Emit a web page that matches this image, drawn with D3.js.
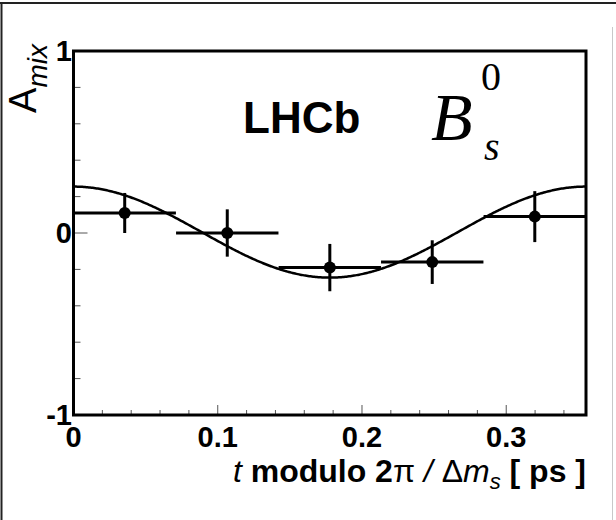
<!DOCTYPE html>
<html>
<head>
<meta charset="utf-8">
<script src="https://cdn.jsdelivr.net/npm/d3@7"></script>
<style>
  html, body { margin: 0; padding: 0; background: #fff; }
  svg { display: block; }
  text { font-family: "Liberation Sans", Arial, sans-serif; fill: #000; }
</style>
</head>
<body>
<svg id="chart" width="616" height="520"></svg>
<script>
// B_s^0 mixing asymmetry, folded into one oscillation period
const period = 0.3553;                 // 2π / Δm_s  [ps]
const binCenters = [0.0355, 0.1066, 0.1777, 0.2487, 0.3198];
const binHalfWidth = 0.0355;
const asym = [0.11, 0.00, -0.19, -0.16, 0.09];
const asymErr = [0.11, 0.13, 0.13, 0.12, 0.14];

// fitted oscillation  A(t) = offset + amplitude * cos(2π t / period)
const fitAmplitude = 0.25;
const fitOffset = 0.005;

const xTickValues = [0, 0.1, 0.2, 0.3];
const xTickLabels = ["0", "0.1", "0.2", "0.3"];
const yTickValues = [-1, 0, 1];
const yTickLabels = ["-1", "0", "1"];

const svg = d3.select("#chart");
const W = 616, H = 520;
const frame = { left: 73.5, right: 586, top: 51, bottom: 415 };

const x = d3.scaleLinear().domain([0, period]).range([frame.left, frame.right]);
const y = d3.scaleLinear().domain([-1, 1]).range([frame.bottom, frame.top]);

// page border
svg.append("line").attr("x1", 1.5).attr("x2", 1.5).attr("y1", 2).attr("y2", H)
  .attr("stroke", "#222").attr("stroke-width", 2);
svg.append("line").attr("x1", 0).attr("x2", W).attr("y1", 3).attr("y2", 3)
  .attr("stroke", "#222").attr("stroke-width", 2);
svg.append("line").attr("x1", 612.5).attr("x2", 612.5).attr("y1", 27).attr("y2", H)
  .attr("stroke", "#c8c8c8").attr("stroke-width", 1);

// axis ticks (inside the frame): majors longer than minors
const xg = svg.append("g").attr("transform", `translate(0,${frame.bottom})`);
xg.selectAll("line").data(d3.range(0.02, period, 0.02))
  .join("line")
  .attr("x1", d => x(d)).attr("x2", d => x(d))
  .attr("y1", 0)
  .attr("y2", (d, i) => ((i + 1) % 5 === 0 ? -10 : -5))
  .attr("stroke", "#555").attr("stroke-width", 1);

const yg = svg.append("g").attr("transform", `translate(${frame.left},0)`);
yg.selectAll("line").data(d3.range(-0.8, 0.9, 0.2))
  .join("line")
  .attr("x1", 0)
  .attr("x2", d => (Math.abs(d) < 1e-6 ? 14 : 7))
  .attr("y1", d => y(d)).attr("y2", d => y(d))
  .attr("stroke", "#555").attr("stroke-width", 1);

// tick labels
svg.append("g").selectAll("text").data(xTickValues)
  .join("text")
  .attr("x", d => x(d))
  .attr("y", 447)
  .attr("text-anchor", "middle")
  .attr("font-weight", "bold")
  .attr("font-size", 29)
  .text((d, i) => xTickLabels[i]);

svg.append("g").selectAll("text").data(yTickValues)
  .join("text")
  .attr("x", 72)
  .attr("y", d => y(d))
  .attr("dy", "0.36em")
  .attr("text-anchor", "end")
  .attr("font-weight", "bold")
  .attr("font-size", 29)
  .text((d, i) => yTickLabels[i]);

// fit curve
const curve = d3.range(0, 401).map(i => {
  const t = period * i / 400;
  return [t, fitOffset + fitAmplitude * Math.cos(2 * Math.PI * t / period)];
});
svg.append("path")
  .datum(curve)
  .attr("d", d3.line().x(d => x(d[0])).y(d => y(d[1])))
  .attr("fill", "none")
  .attr("stroke", "#000")
  .attr("stroke-width", 2.5);

// data points with error bars
const pts = binCenters.map((c, i) => ({ c, v: asym[i], e: asymErr[i] }));
const pg = svg.append("g");
pg.selectAll("line.h").data(pts).join("line").attr("class", "h")
  .attr("x1", d => x(d.c - binHalfWidth)).attr("x2", d => x(d.c + binHalfWidth))
  .attr("y1", d => y(d.v)).attr("y2", d => y(d.v))
  .attr("stroke", "#000").attr("stroke-width", 3);
pg.selectAll("line.v").data(pts).join("line").attr("class", "v")
  .attr("x1", d => x(d.c)).attr("x2", d => x(d.c))
  .attr("y1", d => y(d.v - d.e)).attr("y2", d => y(d.v + d.e))
  .attr("stroke", "#000").attr("stroke-width", 3);
pg.selectAll("circle").data(pts).join("circle")
  .attr("cx", d => x(d.c)).attr("cy", d => y(d.v))
  .attr("r", 6).attr("fill", "#000");

// frame
svg.append("rect")
  .attr("x", frame.left).attr("y", frame.top)
  .attr("width", frame.right - frame.left).attr("height", frame.bottom - frame.top)
  .attr("fill", "none").attr("stroke", "#000").attr("stroke-width", 3);

// y-axis title  A_mix
const yt = svg.append("text")
  .attr("transform", `translate(36,44) rotate(-90)`)
  .attr("text-anchor", "end")
  .attr("font-size", 38);
yt.append("tspan").text("A");
yt.append("tspan").attr("font-style", "italic").attr("font-size", 28).attr("dy", 11).text("mix");

// x-axis title
const xt = svg.append("text")
  .attr("x", 586).attr("y", 482)
  .attr("text-anchor", "end")
  .attr("font-size", 32);
xt.append("tspan").attr("font-style", "italic").text("t");
xt.append("tspan").attr("font-weight", "bold").text(" modulo 2");
xt.append("tspan").text("π");
xt.append("tspan").attr("font-style", "italic").text(" / ");
xt.append("tspan").text("Δ");
xt.append("tspan").attr("font-style", "italic").text("m");
xt.append("tspan").attr("font-style", "italic").attr("font-size", 22).attr("dy", 7).text("s");
xt.append("tspan").attr("font-weight", "bold").attr("dy", -7).text(" [ ps ]");

// labels inside the frame
svg.append("text")
  .attr("x", 243).attr("y", 133)
  .attr("font-weight", "bold")
  .attr("font-size", 44)
  .text("LHCb");

const serif = "'Liberation Serif', 'Times New Roman', serif";
svg.append("text")
  .attr("x", 431).attr("y", 140)
  .attr("font-style", "italic")
  .attr("font-size", 68)
  .style("font-family", serif)
  .text("B");
svg.append("text")
  .attr("x", 481).attr("y", 90)
  .attr("font-size", 40)
  .style("font-family", serif)
  .text("0");
svg.append("text")
  .attr("x", 484).attr("y", 160)
  .attr("font-style", "italic")
  .attr("font-size", 40)
  .style("font-family", serif)
  .text("s");
</script>
</body>
</html>
